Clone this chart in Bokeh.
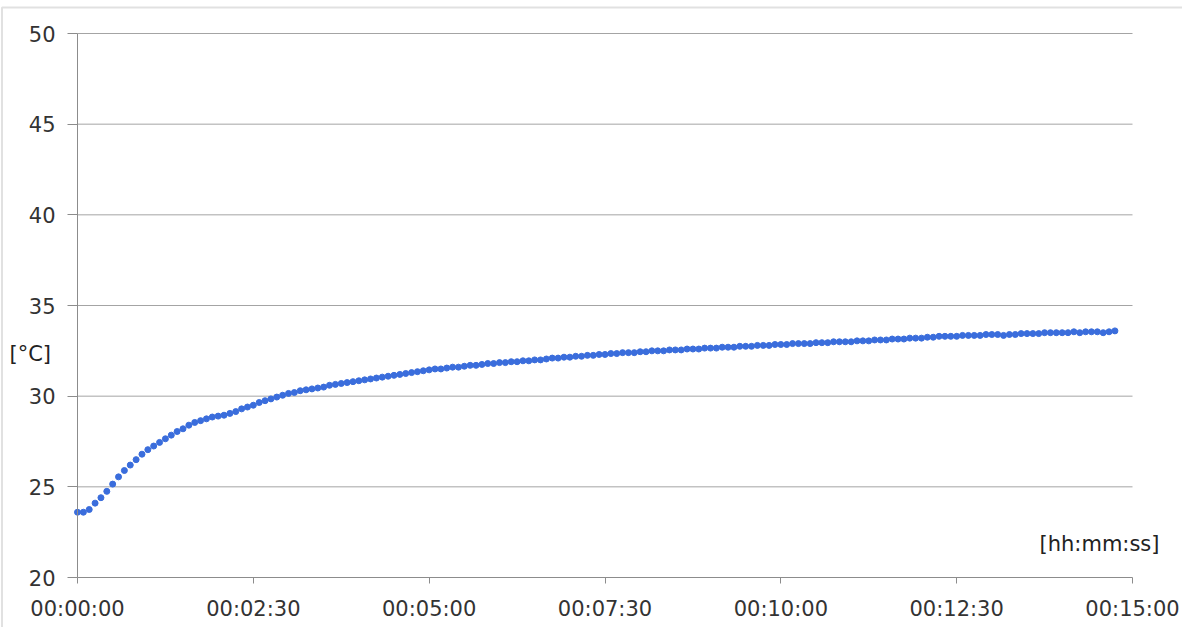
from bokeh.plotting import figure
from bokeh.models import FixedTicker, Label, BoxAnnotation, Range1d
from bokeh.embed import file_html
from bokeh.resources import INLINE

# temperature samples (°C), one every 5 s
temps = [
    23.6, 23.6, 23.75, 24.1, 24.4, 24.75, 25.15, 25.55, 25.9, 26.2,
    26.5, 26.8, 27.05, 27.25, 27.45, 27.65, 27.85, 28.05, 28.2, 28.4,
    28.55, 28.65, 28.75, 28.85, 28.9, 28.95, 29.05, 29.15, 29.3, 29.4,
    29.5, 29.65, 29.75, 29.85, 29.95, 30.05, 30.15, 30.2, 30.3, 30.35,
    30.4, 30.45, 30.5, 30.6, 30.65, 30.7, 30.75, 30.8, 30.85, 30.9,
    30.95, 31.0, 31.05, 31.1, 31.15, 31.2, 31.25, 31.3, 31.35, 31.4,
    31.45, 31.5, 31.5, 31.55, 31.6, 31.6, 31.65, 31.7, 31.7, 31.75,
    31.8, 31.8, 31.85, 31.85, 31.9, 31.9, 31.95, 31.95, 32.0, 32.0,
    32.05, 32.1, 32.1, 32.15, 32.15, 32.2, 32.2, 32.25, 32.25, 32.3,
    32.3, 32.35, 32.35, 32.4, 32.4, 32.4, 32.45, 32.45, 32.5, 32.5,
    32.5, 32.55, 32.55, 32.55, 32.6, 32.6, 32.6, 32.65, 32.65, 32.65,
    32.7, 32.7, 32.7, 32.75, 32.75, 32.75, 32.8, 32.8, 32.8, 32.85,
    32.85, 32.85, 32.9, 32.9, 32.9, 32.9, 32.95, 32.95, 32.95, 33.0,
    33.0, 33.0, 33.0, 33.05, 33.05, 33.05, 33.1, 33.1, 33.1, 33.15,
    33.15, 33.15, 33.2, 33.2, 33.2, 33.25, 33.25, 33.3, 33.3, 33.3,
    33.3, 33.35, 33.35, 33.35, 33.35, 33.4, 33.4, 33.4, 33.35, 33.4,
    33.4, 33.45, 33.45, 33.45, 33.45, 33.5, 33.5, 33.5, 33.5, 33.5,
    33.55, 33.5, 33.55, 33.55, 33.55, 33.5, 33.55, 33.6,
]
sample_step_s = 5
times = [i * sample_step_s for i in range(len(temps))]

x_ticks = [0, 150, 300, 450, 600, 750, 900]
x_tick_labels = ["00:00:00", "00:02:30", "00:05:00", "00:07:30",
                 "00:10:00", "00:12:30", "00:15:00"]
y_ticks = [20, 25, 30, 35, 40, 45, 50]

FONT = "DejaVu Sans"
TXT = "#333333"

W, H = 1182, 627
# plot area in canvas pixels
PL, PR, PT, PB = 77, 1132, 33, 577
xs = (PR - PL) / (x_ticks[-1] - x_ticks[0])
ys = (PB - PT) / (y_ticks[-1] - y_ticks[0])
x_start = x_ticks[0] - PL / xs
x_end = x_ticks[-1] + (W - PR) / xs
y_end = y_ticks[-1] + PT / ys
y_start = y_ticks[0] - (H - PB) / ys

p = figure(width=W, height=H,
           x_range=Range1d(x_start, x_end), y_range=Range1d(y_start, y_end),
           output_backend="svg", toolbar_location=None, min_border=0)
p.outline_line_color = None
p.background_fill_color = "white"
p.border_fill_color = "white"
p.xgrid.visible = False
p.ygrid.visible = False

# horizontal gridlines across the plot area
grid_y = y_ticks[1:]
p.segment(x0=[x_ticks[0]] * len(grid_y), x1=[x_ticks[-1]] * len(grid_y),
          y0=grid_y, y1=grid_y, line_color="#a4a4a4", line_width=1,
          level="underlay")

p.xaxis.ticker = FixedTicker(ticks=x_ticks)
p.xaxis.major_label_overrides = {t: l for t, l in zip(x_ticks, x_tick_labels)}
p.xaxis.fixed_location = y_ticks[0]
p.xaxis.bounds = (x_ticks[0], x_ticks[-1])
p.yaxis.ticker = FixedTicker(ticks=y_ticks)
p.yaxis.fixed_location = x_ticks[0]
p.yaxis.bounds = (y_ticks[0], y_ticks[-1])

for ax in (p.xaxis, p.yaxis):
    ax.axis_line_color = "#8c8c8c"
    ax.major_tick_line_color = "#8c8c8c"
    ax.minor_tick_line_color = None
    ax.major_tick_in = 0
    ax.major_label_text_font = FONT
    ax.major_label_text_font_size = "21px"
    ax.major_label_text_color = TXT

p.yaxis.major_tick_out = 10
p.yaxis.major_label_standoff = 12
p.xaxis.major_tick_out = 6
p.xaxis.major_label_standoff = 13

p.scatter(times, temps, size=6, color="#3a6ddc", line_color="#3a6ddc")

p.add_layout(Label(x=-58, y=32.35, text="[°C]", text_font=FONT,
                   text_font_size="21px", text_color="#222222",
                   text_baseline="middle", text_align="left"))
p.add_layout(Label(x=820.7, y=21.87, text="[hh:mm:ss]", text_font=FONT,
                   text_font_size="21px", text_color="#222222",
                   text_baseline="middle", text_align="left"))

# scanned slide frame (left and top edges)
p.add_layout(BoxAnnotation(left=x_start + 1.5 / xs, top=y_end - 7 / ys,
                           right=x_end + 50, bottom=y_start - 5,
                           fill_color=None, fill_alpha=0,
                           line_color="#9a9a9a", line_width=2))

open("out.html", "w").write(file_html(p, INLINE))
